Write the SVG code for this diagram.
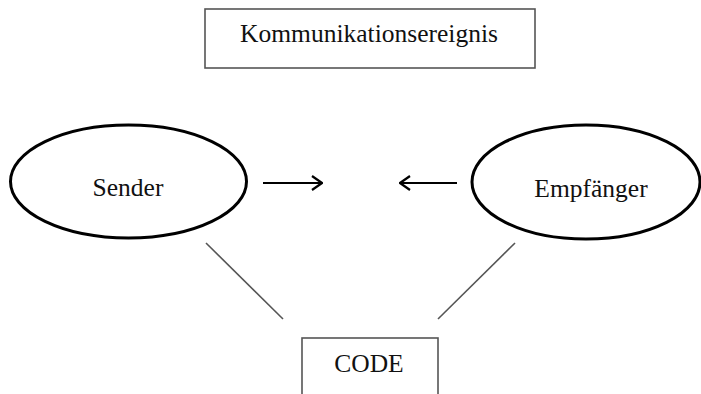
<svg xmlns="http://www.w3.org/2000/svg" width="701" height="394" viewBox="0 0 701 394">
<style>
.t{font-family:"Liberation Serif","Times New Roman",serif;font-size:25.5px;fill:#111;text-anchor:middle}
.box{fill:#fff;stroke:#555;stroke-width:1.6}
.ell{fill:#fff;stroke:#000;stroke-width:3}
.ln{stroke:#555;stroke-width:1.6;fill:none}
.arr{stroke:#000;stroke-width:1.8;fill:none}
</style>
<defs>
<marker id="ah" viewBox="0 0 12 16" refX="11" refY="8" markerWidth="12" markerHeight="16" markerUnits="userSpaceOnUse" orient="auto">
<path d="M1,1 L11,8 L1,15" fill="none" stroke="#000" stroke-width="2.2"/>
</marker>
</defs>
<rect width="701" height="394" fill="#fff"/>
<g id="kommunikationsereignis">
<rect class="box" x="205" y="9" width="330" height="59"/>
<text class="t" x="369" y="42">Kommunikationsereignis</text>
</g>
<g id="sender">
<ellipse class="ell" cx="128.5" cy="181.5" rx="118" ry="56.5"/>
<text class="t" x="128" y="196">Sender</text>
</g>
<g id="empfaenger">
<ellipse class="ell" cx="586" cy="182" rx="114" ry="57"/>
<text class="t" x="591" y="197">Empfänger</text>
</g>
<g id="code">
<rect class="box" x="302" y="338" width="136" height="70"/>
<text class="t" x="369" y="372">CODE</text>
</g>
<g id="connectors">
<line class="arr" x1="263" y1="183" x2="322" y2="183" marker-end="url(#ah)"/>
<line class="arr" x1="457" y1="183" x2="400" y2="183" marker-end="url(#ah)"/>
<line class="ln" x1="206" y1="243" x2="283" y2="319"/>
<line class="ln" x1="515" y1="243" x2="438" y2="319"/>
</g>
</svg>
